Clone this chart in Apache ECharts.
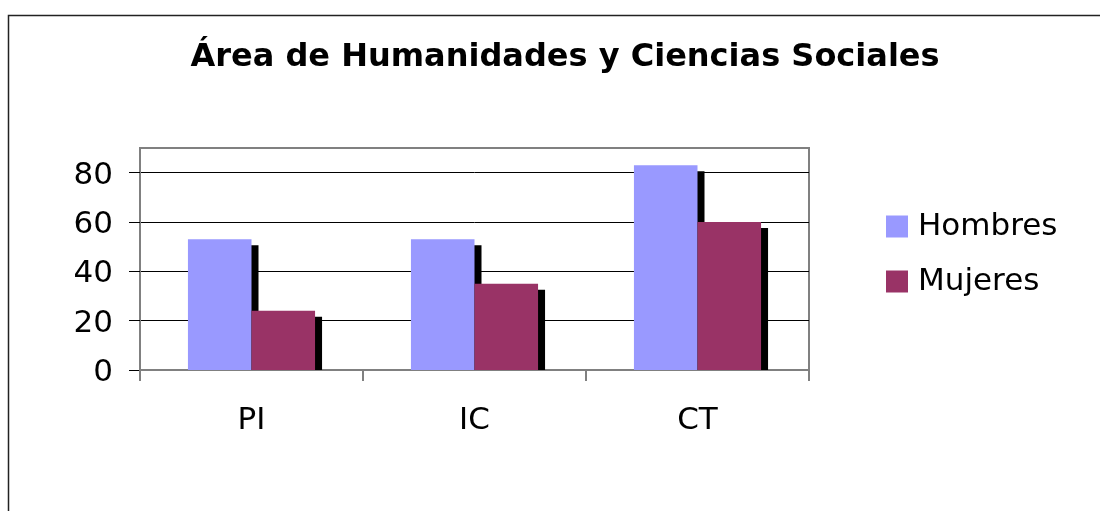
<!DOCTYPE html>
<html>
<head>
<meta charset="utf-8">
<script src="https://cdn.jsdelivr.net/npm/echarts@6/dist/echarts.min.js"></script>
<style>
html,body{margin:0;padding:0;background:#fff;}
#chart{width:1100px;height:511px;}
</style>
</head>
<body>
<div id="chart"></div>
<script>
const titleText = 'Área de Humanidades y Ciencias Sociales';
const categories = ['PI', 'IC', 'CT'];
const seriesNames = ['Hombres', 'Mujeres'];
const hombres = [53, 53, 83];
const mujeres = [24, 35, 60];
const yTicks = [0, 20, 40, 60, 80];
const colors = ['#9999FF', '#993366'];

const FONT = 'DejaVu Sans';
const BAR_FRAC = 0.285;

const shadowData = [];
[hombres, mujeres].forEach(function (arr, s) {
  arr.forEach(function (v, i) { shadowData.push([i, v, s]); });
});

const chart = echarts.init(document.getElementById('chart'));
chart.setOption({
  animation: false,
  backgroundColor: '#fff',
  graphic: [{
    type: 'rect', z: 100, silent: true,
    shape: { x: 8.5, y: 15.5, width: 1200, height: 600 },
    style: { fill: 'none', stroke: '#222', lineWidth: 1.5 }
  }],
  title: {
    text: titleText, left: 560, top: 37, textAlign: 'center',
    textStyle: { fontFamily: FONT, fontWeight: 'bold', fontSize: 32, color: '#000' }
  },
  legend: {
    orient: 'vertical', left: 886, top: 211, padding: 0, itemWidth: 22, itemHeight: 22, itemGap: 24,
    icon: 'rect', data: seriesNames,
    textStyle: { fontFamily: FONT, fontSize: 31, color: '#000', padding: [0, 0, 0, 5] }
  },
  grid: {
    left: 140, top: 148, right: 291, bottom: 141, show: true,
    borderColor: '#808080', borderWidth: 2, backgroundColor: 'transparent'
  },
  xAxis: {
    type: 'category', data: categories,
    axisLine: { lineStyle: { color: '#808080', width: 2 } },
    axisTick: { show: true, length: 11, lineStyle: { color: '#808080', width: 2 } },
    axisLabel: { margin: 35, fontFamily: FONT, fontSize: 31, color: '#000' },
    splitLine: { show: false }
  },
  yAxis: {
    type: 'value', min: 0, max: 90, interval: 20,
    axisLine: { show: true, lineStyle: { color: '#808080', width: 2 } },
    axisTick: { show: true, length: 11, customValues: yTicks, lineStyle: { color: '#000', width: 1 } },
    axisLabel: {
      margin: 27, customValues: yTicks,
      formatter: function (v) { return '{v|' + v + '}'; },
      rich: { v: { fontFamily: FONT, fontSize: 31, color: '#000', padding: [6, 0, 0, 0] } }
    },
    splitLine: { show: true, lineStyle: { color: ['#000', '#000', '#000', '#000', '#000', '#808080'], width: 1 } }
  },
  series: [
    {
      type: 'custom', z: 1, silent: true, data: shadowData,
      renderItem: function (params, api) {
        const top = api.coord([api.value(0), api.value(1)]);
        const base = api.coord([api.value(0), 0]);
        const band = api.size([1, 0])[0];
        const w = band * BAR_FRAC;
        const x = api.value(2) === 0 ? top[0] - w : top[0];
        return {
          type: 'rect',
          shape: { x: x + 7, y: top[1] + 6, width: w, height: base[1] - top[1] - 6 },
          style: { fill: '#000' }
        };
      }
    },
    {
      name: seriesNames[0], type: 'bar', z: 2, data: hombres,
      barWidth: (BAR_FRAC * 100) + '%', barGap: '0%',
      itemStyle: { color: colors[0] }
    },
    {
      name: seriesNames[1], type: 'bar', z: 2, data: mujeres,
      barWidth: (BAR_FRAC * 100) + '%', barGap: '0%',
      itemStyle: { color: colors[1] }
    }
  ]
});
</script>
</body>
</html>
